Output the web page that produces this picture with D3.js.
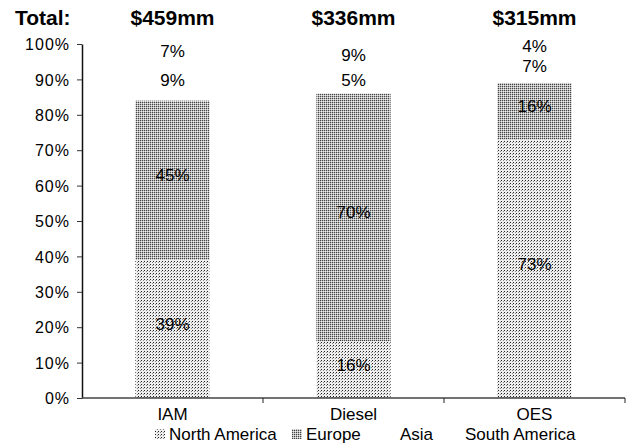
<!DOCTYPE html>
<html>
<head>
<meta charset="utf-8">
<script src="https://cdn.jsdelivr.net/npm/d3@7"></script>
<style>
  body { margin: 0; background: #fff; }
  text { font-family: "Liberation Sans", Arial, sans-serif; fill: #000; }
</style>
</head>
<body>
<script>
// stacked 100% bars, regional split
let categories = ['IAM', 'Diesel', 'OES']
let totals = ['$459mm', '$336mm', '$315mm']
let regions = ['North America', 'Europe', 'Asia', 'South America']
let northAmerica = [39, 16, 73]
let europe = [45, 70, 16]
let asia = [9, 5, 7]
let southAmerica = [7, 9, 4]
let yTicks = [0, 10, 20, 30, 40, 50, 60, 70, 80, 90, 100]

let W = 630, H = 445
let margin = { top: 44, left: 82, right: 5, bottom: 47 }

let rows = categories.map((c, i) => ({
  cat: c,
  'North America': northAmerica[i],
  'Europe': europe[i],
  'Asia': asia[i],
  'South America': southAmerica[i]
}))
let series = d3.stack().keys(regions)(rows)

let svg = d3.select('body').append('svg')
  .attr('width', W).attr('height', H)

// dotted fills, like the scanned print
let defs = svg.append('defs')
let pNA = defs.append('pattern').attr('id', 'pNA')
  .attr('width', 3).attr('height', 3).attr('patternUnits', 'userSpaceOnUse')
pNA.append('rect').attr('width', 3).attr('height', 3).attr('fill', '#eeeeee')
pNA.append('rect').attr('width', 1).attr('height', 1).attr('fill', '#222')
pNA.append('rect').attr('x', 2).attr('y', 1).attr('width', 1).attr('height', 1).attr('fill', '#888')
let pEU = defs.append('pattern').attr('id', 'pEU')
  .attr('width', 2).attr('height', 2).attr('patternUnits', 'userSpaceOnUse')
pEU.append('rect').attr('width', 2).attr('height', 2).attr('fill', '#bbbbbb')
pEU.append('rect').attr('width', 1).attr('height', 1).attr('fill', '#444')
pEU.append('rect').attr('x', 1).attr('y', 1).attr('width', 1).attr('height', 1).attr('fill', '#ececec')

let fills = { 'North America': 'url(#pNA)', 'Europe': 'url(#pEU)', 'Asia': 'none', 'South America': 'none' }

let x = d3.scaleBand().domain(categories)
  .range([margin.left, W - margin.right])
  .paddingInner(0.59).paddingOuter(0.295)
let y = d3.scaleLinear().domain([0, 100]).range([H - margin.bottom, margin.top])

// bars
svg.append('g').selectAll('g')
  .data(series)
  .enter().append('g')
  .attr('fill', d => fills[d.key])
  .selectAll('rect')
  .data(d => d)
  .enter().append('rect')
  .attr('x', d => x(d.data.cat))
  .attr('y', d => y(d[1]))
  .attr('width', x.bandwidth())
  .attr('height', d => y(d[0]) - y(d[1]))

// value labels
series.forEach(s => {
  svg.append('g').selectAll('text')
    .data(s)
    .enter().append('text')
    .attr('x', d => x(d.data.cat) + x.bandwidth() / 2)
    .attr('y', d => y((d[0] + d[1]) / 2) + 1)
    .attr('text-anchor', 'middle')
    .attr('font-size', '17px')
    .text(d => d.data[s.key] + '%')
})

// y axis
let yAxis = svg.append('g')
  .attr('transform', 'translate(' + margin.left + ',0)')
  .call(d3.axisLeft(y).tickValues(yTicks).tickFormat(d => d + '%').tickSize(5).tickSizeOuter(0))
yAxis.select('.domain').attr('stroke', '#111').attr('stroke-width', 1.5)
yAxis.selectAll('.tick line').attr('stroke', '#333')
yAxis.selectAll('.tick text').attr('font-size', '16px').attr('x', -12).attr('dy', '0.36em')
  .style('font-family', '"Liberation Sans", Arial, sans-serif')
  .style('letter-spacing', '1px')

// x axis line with ticks at band boundaries
let xBase = y(0)
svg.append('line')
  .attr('x1', margin.left).attr('x2', W - margin.right)
  .attr('y1', xBase).attr('y2', xBase)
  .attr('stroke', '#444').attr('stroke-width', 1.5)
let step = x.step()
svg.append('g').selectAll('line')
  .data(categories)
  .enter().append('line')
  .attr('x1', d => x(d) + x.bandwidth() / 2 + step / 2)
  .attr('x2', d => x(d) + x.bandwidth() / 2 + step / 2)
  .attr('y1', xBase).attr('y2', xBase + 5)
  .attr('stroke', '#222')

svg.append('g').selectAll('text')
  .data(categories)
  .enter().append('text')
  .attr('x', d => x(d) + x.bandwidth() / 2)
  .attr('y', 420)
  .attr('text-anchor', 'middle')
  .attr('font-size', '17px')
  .text(d => d)

// totals row
svg.append('text').attr('x', 15).attr('y', 25)
  .attr('font-size', '21px').attr('font-weight', 'bold').text('Total:')
svg.append('g').selectAll('text')
  .data(totals)
  .enter().append('text')
  .attr('x', (d, i) => x(categories[i]) + x.bandwidth() / 2)
  .attr('y', 25)
  .attr('text-anchor', 'middle')
  .attr('font-size', '21px').attr('font-weight', 'bold')
  .text(d => d)

// legend
let legendX = [155, 292, 400, 465]
let legend = svg.append('g').selectAll('g')
  .data(regions)
  .enter().append('g')
  .attr('transform', (d, i) => 'translate(' + legendX[i] + ',440)')
legend.append('rect')
  .attr('x', 0).attr('y', -11).attr('width', 10).attr('height', 10)
  .attr('fill', d => fills[d])
legend.append('text')
  .attr('x', d => (d === 'Asia' || d === 'South America') ? 0 : 14)
  .attr('font-size', '17px')
  .text(d => d)
</script>
</body>
</html>
